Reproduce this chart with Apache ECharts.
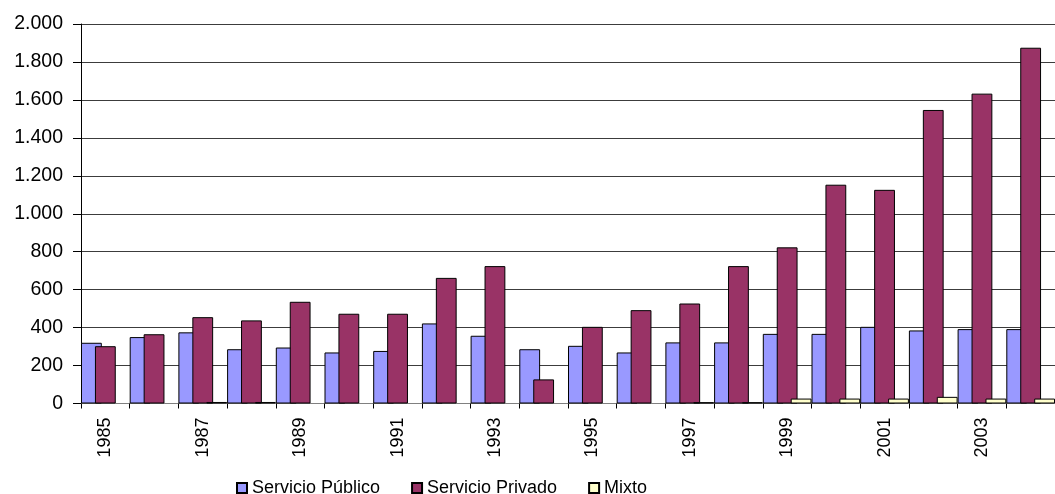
<!DOCTYPE html>
<html>
<head>
<meta charset="utf-8">
<script src="https://cdn.jsdelivr.net/npm/echarts@6/dist/echarts.min.js"></script>
<style>
html,body{margin:0;padding:0;background:#fff;}
#chart{width:1055px;height:494px;}
</style>
</head>
<body>
<div id="chart"></div>
<script>
var years = ['1985','1986','1987','1988','1989','1990','1991','1992','1993','1994','1995','1996','1997','1998','1999','2000','2001','2002','2003','2004'];
var publico = [320, 350, 375, 286, 295, 269, 277, 422, 357, 286, 304, 269, 322, 322, 367, 367, 404, 385, 392, 392];
var privado = [302, 365, 455, 438, 536, 473, 473, 662, 724, 127, 404, 492, 527, 724, 823, 1153, 1126, 1547, 1633, 1875];
var mixto = [null, null, 8, 8, null, null, null, null, null, null, null, null, 7, 7, 26, 26, 26, 35, 26, 26];
var seriesNames = ['Servicio Público', 'Servicio Privado', 'Mixto'];
var yTicks = [0, 200, 400, 600, 800, 1000, 1200, 1400, 1600, 1800, 2000];

function fmt(v) {
  var s = String(Math.round(v));
  return s.replace(/\B(?=(\d{3})+(?!\d))/g, '.');
}

var FONT = "'Liberation Sans', Arial, sans-serif";
var chart = echarts.init(document.getElementById('chart'), null, {renderer: 'canvas'});
var border = {borderColor: '#000', borderWidth: 1};

chart.setOption({
  animation: false,
  backgroundColor: '#fff',
  textStyle: {fontFamily: FONT, color: '#000'},
  grid: {left: 81, top: 24, bottom: 90.5, right: -8, containLabel: false},
  legend: {
    left: 231, top: 474,
    itemWidth: 10, itemHeight: 10, itemGap: 31,
    icon: 'rect',
    textStyle: {fontFamily: FONT, fontSize: 18, color: '#000'},
    data: seriesNames
  },
  xAxis: {
    type: 'category',
    data: years,
    axisLine: {lineStyle: {color: '#808080', width: 1}},
    axisTick: {show: true, alignWithLabel: false, interval: 0, length: 5, lineStyle: {color: '#000'}},
    axisLabel: {interval: 1, rotate: 90, margin: 14, fontSize: 18, color: '#000', fontFamily: FONT},
    splitLine: {show: false}
  },
  yAxis: {
    type: 'value',
    min: yTicks[0], max: yTicks[yTicks.length - 1], interval: 200,
    axisLine: {show: true, lineStyle: {color: '#000', width: 1}},
    axisTick: {show: true, length: 8, lineStyle: {color: '#000'}},
    axisLabel: {formatter: fmt, margin: 18, fontSize: 19.5, color: '#000', fontFamily: FONT},
    splitLine: {show: true, lineStyle: {color: '#3c3c3c', width: 1}}
  },
  series: [
    {name: seriesNames[0], type: 'bar', data: publico, barGap: '-33%', barCategoryGap: '0%',
     itemStyle: Object.assign({color: '#9999FF'}, border)},
    {name: seriesNames[1], type: 'bar', data: privado, barGap: '-33%', barCategoryGap: '0%',
     itemStyle: Object.assign({color: '#993366'}, border)},
    {name: seriesNames[2], type: 'bar', data: mixto, barGap: '-33%', barCategoryGap: '0%',
     itemStyle: Object.assign({color: '#FFFFCC'}, border)}
  ]
});
</script>
</body>
</html>
